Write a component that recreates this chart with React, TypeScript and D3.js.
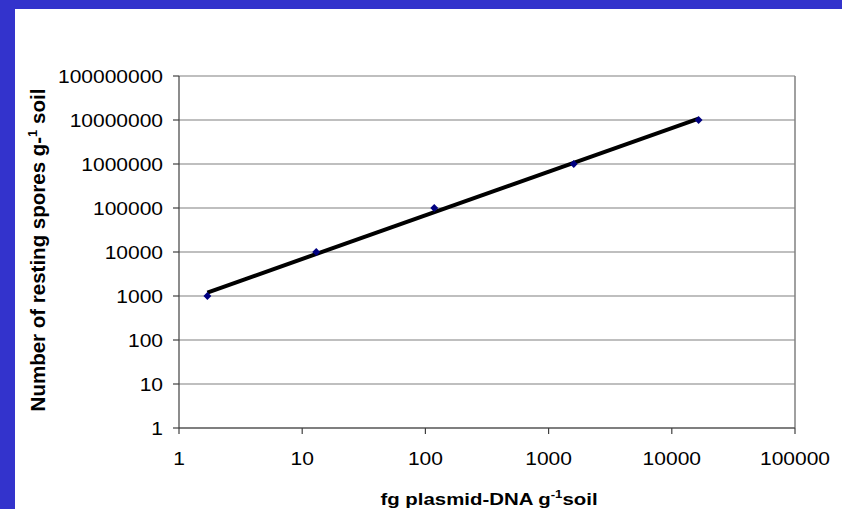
import * as d3 from 'd3';
import { type FC, useEffect, useRef } from 'react';

// fg plasmid-DNA per g soil (x) vs resting spores per g soil (y)
const plasmidDna = [1.7, 13, 118, 1600, 16500];
const restingSpores = [1000, 10000, 100000, 1000000, 10000000];

const xTicks = [1, 10, 100, 1000, 10000, 100000];
const yTicks = [1, 10, 100, 1000, 10000, 100000, 1000000, 10000000, 100000000];

const W = 842;
const H = 509;

const App: FC = () => {
  const svgRef = useRef<SVGSVGElement>(null);

  useEffect(() => {
    document.body.style.margin = '0';
    if (!svgRef.current) return;

    const svg = d3.select(svgRef.current);
    svg.selectAll('*').remove();

    // slide background
    svg.append('rect').attr('width', W).attr('height', H).attr('fill', '#3333CC');
    svg.append('rect').attr('x', 15).attr('y', 9).attr('width', W - 15).attr('height', H - 9).attr('fill', '#fff');

    const plot = { left: 179, right: 795, top: 76, bottom: 428 };

    const x = d3.scaleLog().domain([1, 100000]).range([plot.left, plot.right]);
    const y = d3.scaleLog().domain([1, 100000000]).range([plot.bottom, plot.top]);

    const font = 'Arial, "Liberation Sans", sans-serif';

    // gridlines
    svg.append('g')
      .selectAll('line')
      .data(yTicks)
      .join('line')
      .attr('x1', plot.left)
      .attr('x2', plot.right)
      .attr('y1', (d) => y(d))
      .attr('y2', (d) => y(d))
      .attr('stroke', '#808080')
      .attr('stroke-width', 1.2);

    // plot border right side
    svg.append('line')
      .attr('x1', plot.right).attr('x2', plot.right)
      .attr('y1', plot.top).attr('y2', plot.bottom)
      .attr('stroke', '#808080').attr('stroke-width', 1.5);

    // y axis
    const yAxis = svg.append('g').attr('transform', `translate(${plot.left},0)`);
    yAxis.append('line')
      .attr('y1', plot.top).attr('y2', plot.bottom)
      .attr('stroke', '#404040').attr('stroke-width', 1.2);
    yAxis.selectAll('line.tick')
      .data(yTicks)
      .join('line')
      .attr('class', 'tick')
      .attr('x1', -6).attr('x2', 0)
      .attr('y1', (d) => y(d)).attr('y2', (d) => y(d))
      .attr('stroke', '#404040').attr('stroke-width', 1.2);
    yAxis.selectAll('text')
      .data(yTicks)
      .join('text')
      .attr('transform', (d) => `translate(-16,${y(d) + 6.5}) scale(1.2,1)`)
      .attr('text-anchor', 'end')
      .attr('font-family', font)
      .attr('font-size', 17.5)
      .attr('fill', '#000')
      .text((d) => `${d}`);

    // x axis
    const xAxis = svg.append('g').attr('transform', `translate(0,${plot.bottom})`);
    xAxis.append('line')
      .attr('x1', plot.left).attr('x2', plot.right)
      .attr('stroke', '#404040').attr('stroke-width', 1.2);
    xAxis.selectAll('line.tick')
      .data(xTicks)
      .join('line')
      .attr('class', 'tick')
      .attr('x1', (d) => x(d)).attr('x2', (d) => x(d))
      .attr('y1', 0).attr('y2', 6)
      .attr('stroke', '#404040').attr('stroke-width', 1.2);
    xAxis.selectAll('text')
      .data(xTicks)
      .join('text')
      .attr('transform', (d) => `translate(${x(d)},37) scale(1.2,1)`)
      .attr('text-anchor', 'middle')
      .attr('font-family', font)
      .attr('font-size', 17.5)
      .attr('fill', '#000')
      .text((d) => `${d}`);

    // power trendline (least squares in log-log space)
    const lx = plasmidDna.map(Math.log10);
    const ly = restingSpores.map(Math.log10);
    const mx = d3.mean(lx) as number;
    const my = d3.mean(ly) as number;
    const slope =
      d3.sum(lx, (v, i) => (v - mx) * (ly[i] - my)) / d3.sum(lx, (v) => (v - mx) ** 2);
    const intercept = my - slope * mx;
    const xs = d3.extent(plasmidDna) as [number, number];
    const trend = xs.map((v) => [v, Math.pow(10, intercept + slope * Math.log10(v))] as [number, number]);

    svg.append('path')
      .attr('d', d3.line<[number, number]>().x((d) => x(d[0])).y((d) => y(d[1]))(trend))
      .attr('fill', 'none')
      .attr('stroke', '#000')
      .attr('stroke-width', 4);

    // markers
    svg.append('g')
      .selectAll('path')
      .data(plasmidDna.map((v, i) => [v, restingSpores[i]]))
      .join('path')
      .attr('d', d3.symbol(d3.symbolDiamond2, 40)())
      .attr('transform', (d) => `translate(${x(d[0])},${y(d[1])})`)
      .attr('fill', '#000080');

    // x title
    const xt = svg.append('text')
      .attr('transform', `translate(489,505) scale(1.2,1)`)
      .attr('text-anchor', 'middle')
      .attr('font-family', font)
      .attr('font-weight', 'bold')
      .attr('font-size', 17)
      .attr('fill', '#000');
    xt.append('tspan').text('fg plasmid-DNA g');
    xt.append('tspan').attr('font-size', 11).attr('dy', -7).text('-1');
    xt.append('tspan').attr('dy', 7).text('soil');

    // y title
    const yt = svg.append('text')
      .attr('transform', `translate(45,250) rotate(-90)`)
      .attr('text-anchor', 'middle')
      .attr('font-family', font)
      .attr('font-weight', 'bold')
      .attr('font-size', 20.5)
      .attr('fill', '#000');
    yt.append('tspan').text('Number of resting spores g-');
    yt.append('tspan').attr('font-size', 13).attr('dy', -8).text('1');
    yt.append('tspan').attr('dy', 8).text(' soil');
  }, []);

  return <svg ref={svgRef} width={W} height={H} style={{ display: 'block' }} />;
};

export default App;
